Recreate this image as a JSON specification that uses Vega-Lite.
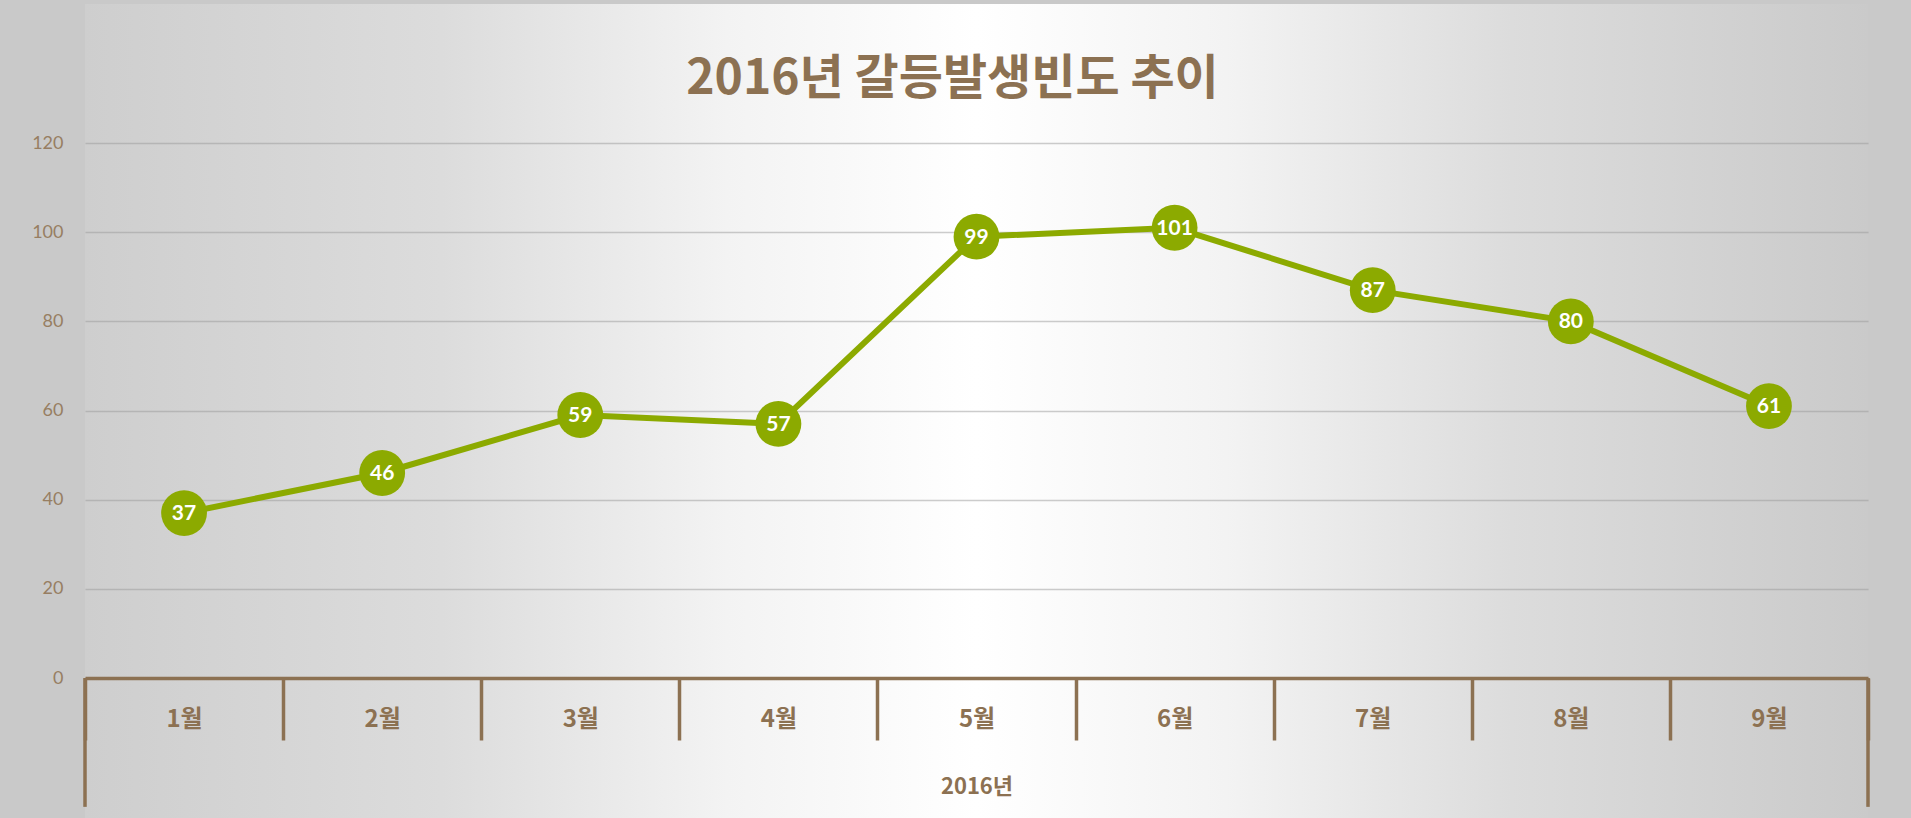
{
  "$schema": "https://vega.github.io/schema/vega-lite/v6.json",
  "width": 1783,
  "height": 814,
  "autosize": {"type": "none"},
  "padding": {"left": 85, "top": 4, "right": 43, "bottom": 0},
  "background": "#c9c9c9",
  "config": {
    "view": {
      "stroke": null,
      "fill": {
        "gradient": "linear",
        "x1": 0, "y1": 0, "x2": 1, "y2": 0,
        "stops": [
          {"offset": 0, "color": "#cecece"},
          {"offset": 0.2, "color": "#dcdcdc"},
          {"offset": 0.36, "color": "#f3f3f3"},
          {"offset": 0.5, "color": "#ffffff"},
          {"offset": 0.64, "color": "#f3f3f3"},
          {"offset": 0.8, "color": "#dcdcdc"},
          {"offset": 1, "color": "#cacaca"}
        ]
      }
    }
  },
  "title": {
    "text": "2016년 갈등발생빈도 추이",
    "font": "Noto Sans CJK KR",
    "fontSize": 48,
    "fontWeight": "bold",
    "color": "#8c7152",
    "anchor": "middle",
    "frame": "group",
    "offset": -100,
    "dx": -24
  },
  "data": {
    "values": [
      {"m": "1월", "v": 37},
      {"m": "2월", "v": 46},
      {"m": "3월", "v": 59},
      {"m": "4월", "v": 57},
      {"m": "5월", "v": 99},
      {"m": "6월", "v": 101},
      {"m": "7월", "v": 87},
      {"m": "8월", "v": 80},
      {"m": "9월", "v": 61}
    ]
  },
  "encoding": {
    "x": {
      "field": "m",
      "type": "nominal",
      "sort": null,
      "title": "2016년",
      "scale": {
        "type": "band",
        "domain": ["1월", "2월", "3월", "4월", "5월", "6월", "7월", "8월", "9월"],
        "paddingInner": 0,
        "paddingOuter": 0
      },
      "axis": {
        "orient": "bottom",
        "offset": -140,
        "title": "2016년",
        "titleFont": "Noto Sans CJK KR",
        "titleFontSize": 22,
        "titleFontWeight": "bold",
        "titleColor": "#8c7152",
        "titleY": 108,
        "titleBaseline": "middle",
        "grid": false,
        "domain": true,
        "domainColor": "#8c7152",
        "domainWidth": 3.5,
        "ticks": true,
        "tickBand": "extent",
        "tickSize": 62,
        "tickWidth": 3.5,
        "tickColor": "#8c7152",
        "labelAngle": 0,
        "labelFont": "Noto Sans CJK KR",
        "labelFontSize": 24,
        "labelFontWeight": "bold",
        "labelColor": "#8c7152",
        "labelBaseline": "middle",
        "labelPadding": -21,
        "labelOverlap": false,
        "labelFlush": false
      }
    },
    "y": {
      "field": "v",
      "type": "quantitative",
      "title": null,
      "scale": {"domain": [-31.4, 151.2], "nice": false, "zero": false},
      "axis": {
        "title": null,
        "values": [0, 20, 40, 60, 80, 100, 120],
        "domain": false,
        "ticks": false,
        "labelFont": "Lato",
        "labelFontSize": 18,
        "labelColor": "#977e62",
        "labelPadding": 22,
        "grid": true,
        "gridColor": "#9a9a9a",
        "gridOpacity": 0.5,
        "gridWidth": 1.3
      }
    }
  },
  "layer": [
    {
      "mark": {"type": "line", "color": "#8caa00", "strokeWidth": 6}
    },
    {
      "mark": {"type": "point", "filled": true, "size": 2100, "color": "#8caa00", "opacity": 1}
    },
    {
      "mark": {"type": "text", "color": "#ffffff", "font": "Lato", "fontWeight": "bold", "fontSize": 21, "baseline": "middle", "dy": 1},
      "encoding": {"text": {"field": "v", "type": "quantitative"}}
    },
    {
      "transform": [{"filter": {"field": "m", "equal": "1월"}}],
      "mark": {"type": "rule", "color": "#8c7152", "strokeWidth": 3.5},
      "encoding": {
        "x": {"field": "m", "type": "nominal", "title": "2016년", "bandPosition": 0},
        "y": {"datum": 0, "type": "quantitative", "title": null},
        "y2": {"datum": -28.9}
      }
    },
    {
      "transform": [{"filter": {"field": "m", "equal": "9월"}}],
      "mark": {"type": "rule", "color": "#8c7152", "strokeWidth": 3.5},
      "encoding": {
        "x": {"field": "m", "type": "nominal", "title": "2016년", "bandPosition": 1},
        "y": {"datum": 0, "type": "quantitative", "title": null},
        "y2": {"datum": -28.9}
      }
    }
  ]
}
